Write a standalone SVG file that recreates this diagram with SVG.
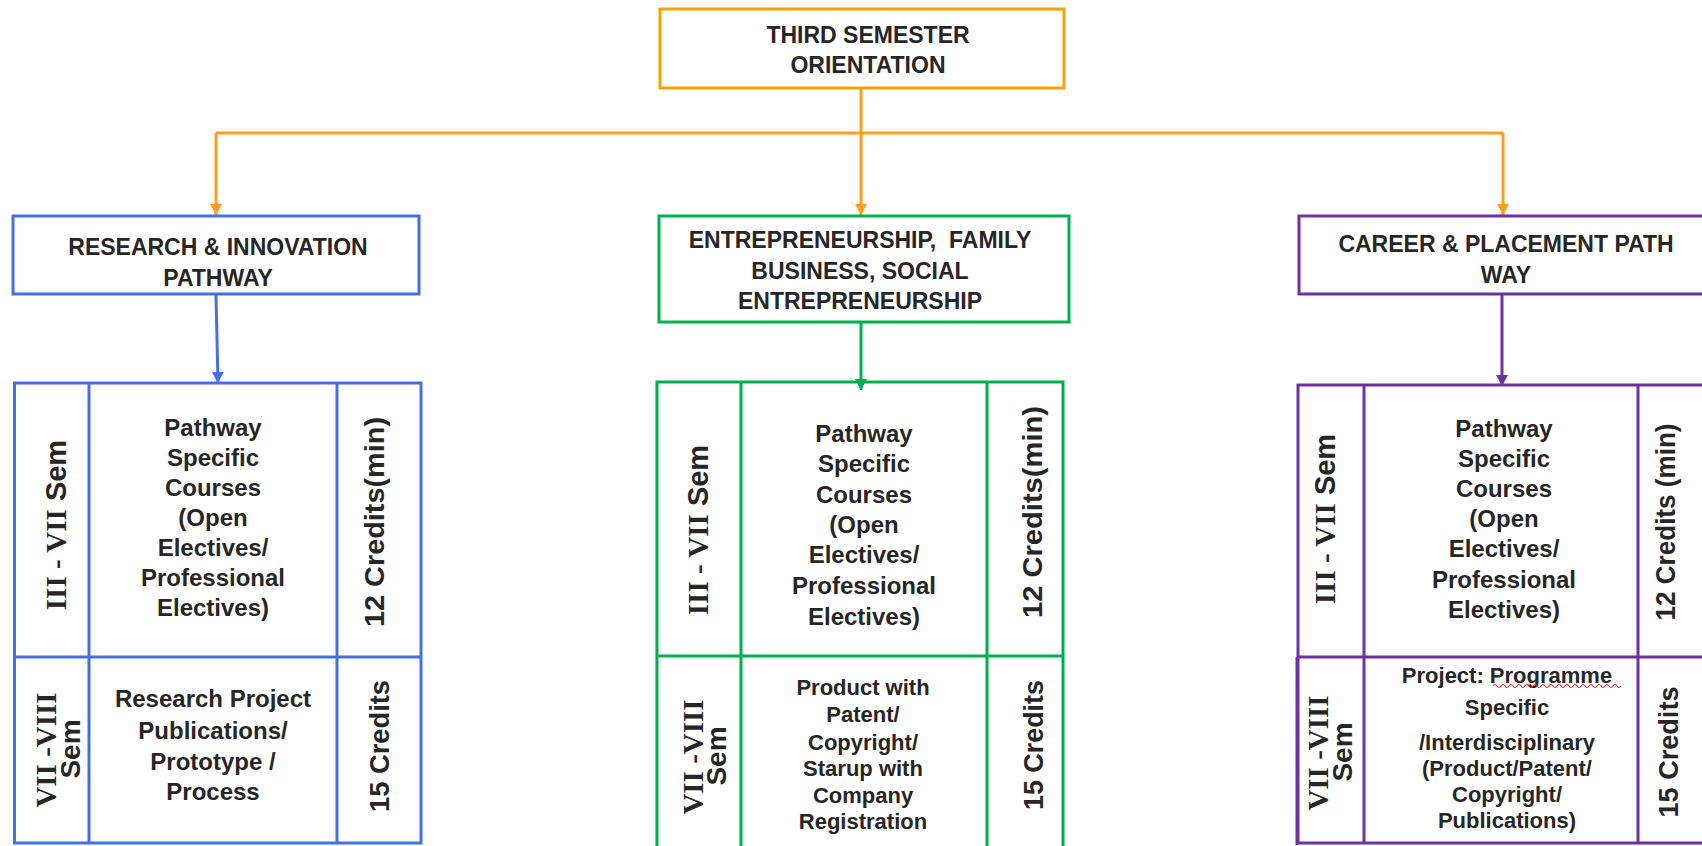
<svg xmlns="http://www.w3.org/2000/svg" width="1702" height="846" viewBox="0 0 1702 846">
<defs>
<style>
.t{font-family:"Liberation Sans",Arial,sans-serif;font-weight:bold;fill:#262626;text-anchor:middle}
.h{font-size:23px}
.m{font-size:24px}
.s{font-size:22px}
.r{font-size:28px}
.rn{font-family:"Liberation Serif","Times New Roman",serif}
.box{fill:#fff;stroke-width:3}
.grid{fill:none;stroke-width:3}
.or{stroke:#F5A300}
.bl{stroke:#4371E4}
.gr{stroke:#00B050}
.pu{stroke:#7030A0}
.c{fill:none;stroke-width:3}
</style>
<marker id="aO" markerUnits="userSpaceOnUse" markerWidth="12" markerHeight="12" refX="11" refY="6" orient="auto"><path d="M0,0 L11,6 L0,12 Z" fill="#FF9E1B"/></marker>
<marker id="aB" markerUnits="userSpaceOnUse" markerWidth="12" markerHeight="12" refX="11" refY="6" orient="auto"><path d="M0,0 L11,6 L0,12 Z" fill="#4371E4"/></marker>
<marker id="aG" markerUnits="userSpaceOnUse" markerWidth="12" markerHeight="12" refX="11" refY="6" orient="auto"><path d="M0,0 L11,6 L0,12 Z" fill="#00B050"/></marker>
<marker id="aP" markerUnits="userSpaceOnUse" markerWidth="12" markerHeight="12" refX="11" refY="6" orient="auto"><path d="M0,0 L11,6 L0,12 Z" fill="#7030A0"/></marker>
</defs>
<rect width="1702" height="846" fill="#fff"/>

<g id="connectors">
<path class="c" stroke="#FF9E1B" stroke-width="4" d="M861,88 V133"/>
<path class="c" stroke="#FF9E1B" d="M216,133 H1503"/>
<path class="c" stroke="#FF9E1B" d="M216,133 V215" marker-end="url(#aO)"/>
<path class="c" stroke="#FF9E1B" d="M861,133 V215" marker-end="url(#aO)"/>
<path class="c" stroke="#FF9E1B" d="M1503,133 V215" marker-end="url(#aO)"/>
<path class="c" stroke="#4371E4" stroke-width="2.5" d="M216,295 L218,383" marker-end="url(#aB)"/>
<path class="c" stroke="#00B050" stroke-width="2.5" d="M861,322 V390" marker-end="url(#aG)"/>
<path class="c" stroke="#7030A0" stroke-width="2.5" d="M1502,295 V386" marker-end="url(#aP)"/>
</g>

<g id="orientation">
<rect class="box or" x="660" y="9" width="404" height="79"/>
<text class="t h" x="868" y="43">THIRD SEMESTER</text>
<text class="t h" x="868" y="73">ORIENTATION</text>
</g>

<g id="research">
<rect class="box bl" x="13" y="216" width="406" height="78"/>
<text class="t h" x="218" y="255">RESEARCH &amp; INNOVATION</text>
<text class="t h" x="218" y="286">PATHWAY</text>
</g>

<g id="entrepreneurship">
<rect class="box gr" x="659" y="216" width="410" height="106"/>
<text class="t h" x="860" y="248" xml:space="preserve">ENTREPRENEURSHIP,  FAMILY</text>
<text class="t h" x="860" y="279">BUSINESS, SOCIAL</text>
<text class="t h" x="860" y="309">ENTREPRENEURSHIP</text>
</g>

<g id="career">
<rect class="box pu" x="1299" y="216" width="410" height="78"/>
<text class="t h" x="1506" y="252">CAREER &amp; PLACEMENT PATH</text>
<text class="t h" x="1506" y="283">WAY</text>
</g>

<g id="research-table">
<rect class="grid bl" x="14.5" y="383" width="406.5" height="460"/>
<path class="grid bl" d="M89,383 V843 M337,383 V843 M14.5,657 H421"/>
<text class="t" font-size="29" transform="translate(56,525) rotate(-90)" y="10"><tspan class="rn">III - VII</tspan> Sem</text>
<text class="t m" x="213" y="436">Pathway</text>
<text class="t m" x="213" y="466">Specific</text>
<text class="t m" x="213" y="496">Courses</text>
<text class="t m" x="213" y="526">(Open</text>
<text class="t m" x="213" y="556">Electives/</text>
<text class="t m" x="213" y="586">Professional</text>
<text class="t m" x="213" y="616">Electives)</text>
<text class="t r" transform="translate(374,522) rotate(-90)" y="10" textLength="210" lengthAdjust="spacingAndGlyphs">12 Credits(min)</text>
<text class="t" font-size="29" transform="translate(46,750) rotate(-90)" y="10"><tspan class="rn">VII -VIII</tspan></text>
<text class="t r" transform="translate(70,749) rotate(-90)" y="10">Sem</text>
<text class="t m" x="213" y="707">Research Project</text>
<text class="t m" x="213" y="739">Publications/</text>
<text class="t m" x="213" y="770">Prototype /</text>
<text class="t m" x="213" y="800">Process</text>
<text class="t r" transform="translate(379,746) rotate(-90)" y="10" textLength="132" lengthAdjust="spacingAndGlyphs">15 Credits</text>
</g>

<g id="entrepreneurship-table">
<rect class="grid gr" x="657" y="382" width="406" height="468"/>
<path class="grid gr" d="M741,382 V850 M987,382 V850 M657,656 H1063"/>
<text class="t" font-size="29" transform="translate(698,530) rotate(-90)" y="10"><tspan class="rn">III - VII</tspan> Sem</text>
<text class="t m" x="864" y="442">Pathway</text>
<text class="t m" x="864" y="472">Specific</text>
<text class="t m" x="864" y="503">Courses</text>
<text class="t m" x="864" y="533">(Open</text>
<text class="t m" x="864" y="563">Electives/</text>
<text class="t m" x="864" y="594">Professional</text>
<text class="t m" x="864" y="625">Electives)</text>
<text class="t r" transform="translate(1032,512) rotate(-90)" y="10" textLength="212" lengthAdjust="spacingAndGlyphs">12 Credits(min)</text>
<text class="t" font-size="29" transform="translate(693,757) rotate(-90)" y="10"><tspan class="rn">VII -VIII</tspan></text>
<text class="t r" transform="translate(716,756) rotate(-90)" y="10">Sem</text>
<text class="t s" x="863" y="695">Product with</text>
<text class="t s" x="863" y="722">Patent/</text>
<text class="t s" x="863" y="750">Copyright/</text>
<text class="t s" x="863" y="776">Starup with</text>
<text class="t s" x="863" y="803">Company</text>
<text class="t s" x="863" y="829">Registration</text>
<text class="t r" transform="translate(1033,745) rotate(-90)" y="10" textLength="130" lengthAdjust="spacingAndGlyphs">15 Credits</text>
</g>

<g id="career-table">
<rect class="grid pu" x="1298" y="385" width="410" height="458"/>
<path class="grid pu" d="M1364,385 V843 M1638,385 V843 M1298,657 H1708"/>
<path class="grid pu" stroke-width="5" d="M1297,657 V845"/>
<text class="t" font-size="29" transform="translate(1325,519) rotate(-90)" y="10"><tspan class="rn">III - VII</tspan> Sem</text>
<text class="t m" x="1504" y="437">Pathway</text>
<text class="t m" x="1504" y="467">Specific</text>
<text class="t m" x="1504" y="497">Courses</text>
<text class="t m" x="1504" y="527">(Open</text>
<text class="t m" x="1504" y="557">Electives/</text>
<text class="t m" x="1504" y="588">Professional</text>
<text class="t m" x="1504" y="618">Electives)</text>
<text class="t r" transform="translate(1665,522) rotate(-90)" y="10" textLength="197" lengthAdjust="spacingAndGlyphs">12 Credits (min)</text>
<text class="t" font-size="29" transform="translate(1318,753) rotate(-90)" y="10"><tspan class="rn">VII -VIII</tspan></text>
<text class="t r" transform="translate(1342,752) rotate(-90)" y="10">Sem</text>
<text class="t s" x="1507" y="683">Project: Programme</text>
<path d="M1493,686 q2,-3 4,0 t4,0 t4,0 t4,0 t4,0 t4,0 t4,0 t4,0 t4,0 t4,0 t4,0 t4,0 t4,0 t4,0 t4,0 t4,0 t4,0 t4,0 t4,0 t4,0 t4,0 t4,0 t4,0 t4,0 t4,0 t4,0 t4,0 t4,0 t4,0 t4,0 t4,0 t4,0" fill="none" stroke="#E8282B" stroke-width="1.2"/>
<text class="t s" x="1507" y="715">Specific</text>
<text class="t s" x="1507" y="750">/Interdisciplinary</text>
<text class="t s" x="1507" y="776">(Product/Patent/</text>
<text class="t s" x="1507" y="802">Copyright/</text>
<text class="t s" x="1507" y="828">Publications)</text>
<text class="t r" transform="translate(1668,752) rotate(-90)" y="10" textLength="131" lengthAdjust="spacingAndGlyphs">15 Credits</text>
</g>
</svg>
